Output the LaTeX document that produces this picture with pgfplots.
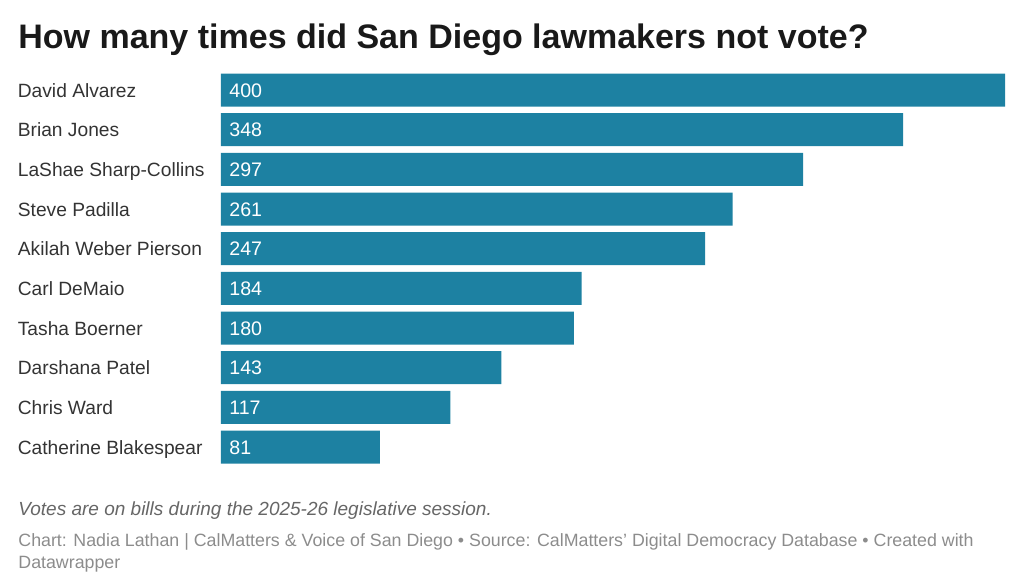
\documentclass[border=0pt]{standalone}
\usepackage{pgfplots}
\pgfplotsset{compat=1.18}
\usepackage{fontspec}
\setmainfont{Liberation Sans}
\definecolor{barc}{HTML}{1D81A2}
\definecolor{txt}{HTML}{333333}
\begin{document}
\begin{tikzpicture}
\useasboundingbox (0,0) rectangle (512pt,-294pt);
\node[anchor=base west, inner sep=0, font=\fontsize{17pt}{20pt}\selectfont\bfseries, text=black!90] at (9pt,-24.5pt) {How many times did San Diego lawmakers not vote?};
\begin{axis}[
  at={(110.5pt,-35.1pt)}, anchor=north west,
  scale only axis, width=392pt, height=198.33pt,
  xmin=0, xmax=400, ymin=-0.5, ymax=9.5, y dir=reverse,
  axis line style={draw=none}, tick style={draw=none},
  xtick=\empty,
  xbar, bar width=16.5pt, bar shift=0pt,
  ytick={0,...,9},
  yticklabels={David Alvarez,Brian Jones,LaShae Sharp-Collins,Steve Padilla,Akilah Weber Pierson,Carl DeMaio,Tasha Boerner,Darshana Patel,Chris Ward,Catherine Blakespear},
  yticklabel style={anchor=west, xshift=-97.5pt, inner sep=0, text height=0.9em, text depth=0.2em, font=\fontsize{9.6pt}{11pt}\selectfont, text=txt},
  clip=false,
]
\addplot[fill=barc, draw=none] coordinates {(400,0) (348,1) (297,2) (261,3) (247,4) (184,5) (180,6) (143,7) (117,8) (81,9)};
\addplot[draw=none, fill=none, point meta=explicit symbolic, nodes near coords,
  every node near coord/.append style={anchor=west, inner sep=0, xshift=4pt, text height=0.9em, text depth=0.2em, text=white, font=\fontsize{9.8pt}{11pt}\selectfont}]
  coordinates {(0,0) [400] (0,1) [348] (0,2) [297] (0,3) [261] (0,4) [247] (0,5) [184] (0,6) [180] (0,7) [143] (0,8) [117] (0,9) [81]};
\end{axis}
\node[anchor=base west, inner sep=0, font=\fontsize{9.5pt}{11pt}\selectfont\itshape, text=black!60] at (9pt,-258pt) {Votes are on bills during the 2025-26 legislative session.};
\node[anchor=base west, inner sep=0, font=\fontsize{8.9pt}{10pt}\selectfont, text=black!45] at (9pt,-273pt) {Chart: Nadia Lathan | CalMatters \& Voice of San Diego • Source: CalMatters' Digital Democracy Database • Created with};
\node[anchor=base west, inner sep=0, font=\fontsize{8.9pt}{10pt}\selectfont, text=black!45] at (9pt,-284pt) {Datawrapper};
\end{tikzpicture}
\end{document}
